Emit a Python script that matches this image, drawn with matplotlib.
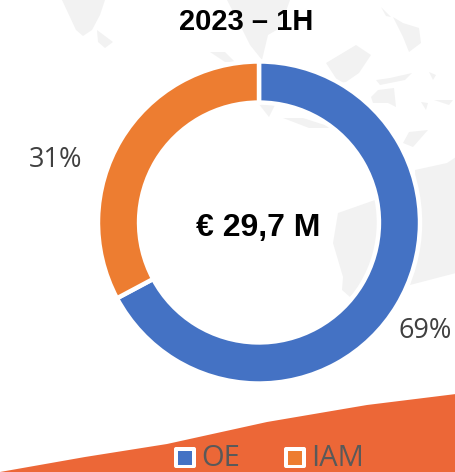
import matplotlib.pyplot as plt
from matplotlib.patches import Polygon, Rectangle, FancyBboxPatch

categories = ['OE', 'IAM']
# arc sizes as drawn in the picture, the printed labels differ a bit
shares = [67.2, 32.8]
share_labels = ['69%', '31%']
colors = ['#4472C4', '#ED7D31']
title = '2023 – 1H'
center_label = '€ 29,7 M'

# background decoration, in image pixels
swoosh = [(0, 472), (85, 457), (167, 444), (267, 422), (367, 405), (456, 394), (456, 472)]
map_shapes = [
    [(62, 0), (105, 0), (100, 15), (92, 30), (83, 36), (76, 30)],
    [(97, 30), (113, 42), (105, 48), (98, 42)],
    [(227, 0), (290, 0), (280, 28), (268, 35), (262, 60), (250, 45), (240, 25)],
    [(210, 52), (225, 52), (235, 62), (225, 62)],
    [(326, 63), (356, 45), (371, 55), (359, 73), (346, 82), (339, 83)],
    [(376, 80), (390, 78), (412, 73), (405, 80), (380, 85)],
    [(371, 97), (378, 90), (394, 88), (396, 107), (388, 103), (373, 103)],
    [(381, 7), (391, 17), (386, 16)],
    [(393, 17), (403, 23), (419, 28), (421, 43), (409, 52), (403, 37)],
    [(429, 72), (436, 75), (433, 80)],
    [(434, 100), (453, 100), (449, 105)],
    [(421, 102), (428, 103), (426, 110)],
    [(283, 118), (303, 118), (334, 128), (309, 128)],
    [(258, 103), (276, 103), (269, 117)],
    [(409, 132), (428, 130), (413, 147), (403, 143)],
    [(338, 213), (375, 200), (380, 217), (378, 250), (367, 277), (350, 297), (342, 290), (343, 277), (333, 243)],
    [(415, 170), (447, 163), (456, 157), (456, 273), (410, 285), (418, 247)],
]

fig = plt.figure(figsize=(4.56, 4.72), dpi=100)
bg = fig.add_axes([0, 0, 1, 1])
bg.set_xlim(0, 456)
bg.set_ylim(472, 0)
bg.axis('off')
for shape in map_shapes:
    bg.add_patch(Polygon(shape, closed=True, fc='#F2F2F2', ec='none'))
bg.add_patch(Polygon(swoosh, closed=True, fc='#EC6737', ec='none'))

# donut
W, H = 456, 472
cx, cy, r = 259, 222.5, 161
ax = fig.add_axes([(cx - r) / W, 1 - (cy + r) / H, 2 * r / W, 2 * r / H])
ax.pie(shares, colors=colors, startangle=90, counterclock=False, radius=1,
       wedgeprops=dict(width=0.255, edgecolor='white', linewidth=3.2))
ax.set_xlim(-1, 1)
ax.set_ylim(-1, 1)

label_font = ['Open Sans', 'DejaVu Sans']
txt = fig.add_axes([0, 0, 1, 1])
txt.set_xlim(0, 456)
txt.set_ylim(472, 0)
txt.axis('off')
txt.text(246.5, 22, title, fontsize=21, fontweight='bold', family='Liberation Sans',
         ha='center', va='center', color='black')
txt.text(258, 228, center_label, fontsize=23, fontweight='bold', family='Liberation Sans',
         ha='center', va='center', color='black')
txt.text(56, 160, share_labels[1], fontsize=19.5, family=label_font, ha='center', va='center', color='#404040')
txt.text(425, 331, share_labels[0], fontsize=19.5, family=label_font, ha='center', va='center', color='#404040')

# legend drawn by hand so the white marker box sits on the swoosh
for x, name, col in zip([174, 284], categories, colors):
    txt.add_patch(FancyBboxPatch((x, 447), 22, 21, boxstyle='round,pad=0,rounding_size=2', fc='white', ec='none'))
    txt.add_patch(Rectangle((x + 4, 451), 14, 13.5, fc=col, ec='none'))
    txt.text(x + 27, 459, name, fontsize=21, family=label_font, ha='left', va='center', color='#595959')

fig.savefig('out.png', dpi=100)
